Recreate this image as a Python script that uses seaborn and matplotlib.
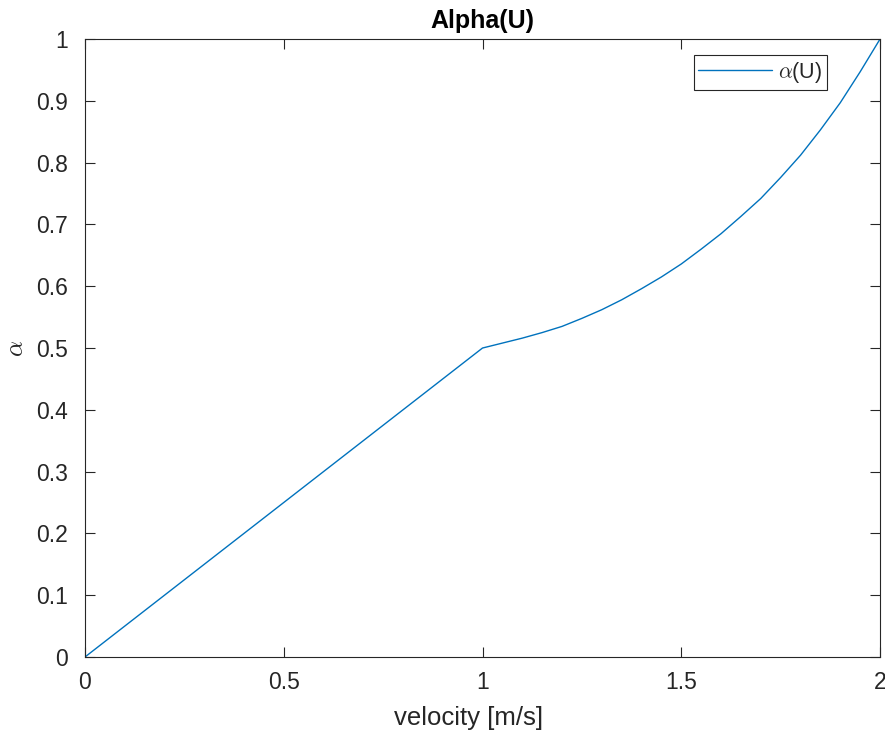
import matplotlib
matplotlib.use("Agg")
import matplotlib.pyplot as plt
import seaborn as sns
import pandas as pd

# velocity samples [m/s] and alpha values
velocity = [0.0, 1.0, 1.05, 1.1, 1.15, 1.2, 1.25, 1.3, 1.35, 1.4, 1.45, 1.5,
            1.55, 1.6, 1.65, 1.7, 1.75, 1.8, 1.85, 1.9, 1.95, 2.0]
alpha = [0.0, 0.500, 0.508, 0.516, 0.525, 0.535, 0.548, 0.562, 0.578, 0.596,
         0.615, 0.636, 0.660, 0.685, 0.713, 0.742, 0.776, 0.812, 0.853, 0.897,
         0.947, 1.000]

x_ticks = [0, 0.5, 1, 1.5, 2]
x_tick_labels = ["0", "0.5", "1", "1.5", "2"]
y_ticks = [0, 0.1, 0.2, 0.3, 0.4, 0.5, 0.6, 0.7, 0.8, 0.9, 1]
y_tick_labels = ["0", "0.1", "0.2", "0.3", "0.4", "0.5", "0.6", "0.7", "0.8", "0.9", "1"]

df = pd.DataFrame({"velocity": velocity, "alpha": alpha})

sns.set_theme(style="white")
plt.rcParams["font.family"] = ["Liberation Sans", "DejaVu Sans"]
plt.rcParams["mathtext.fontset"] = "cm"

edge = "#262626"
fig = plt.figure(figsize=(8.85, 7.31), dpi=100)
ax = fig.add_axes([0.096, 0.1012, 0.8984, 0.8454])

sns.lineplot(data=df, x="velocity", y="alpha", ax=ax, color="#0072BD",
             linewidth=1.0, label=r"$\alpha$(U)", sort=False)

ax.set_xlim(0, 2)
ax.set_ylim(0, 1)
ax.set_xticks(x_ticks)
ax.set_xticklabels(x_tick_labels)
ax.set_yticks(y_ticks)
ax.set_yticklabels(y_tick_labels)

for s in ax.spines.values():
    s.set_color(edge)
    s.set_linewidth(0.8)
ax.tick_params(direction="in", length=7, width=0.8, color=edge,
               labelcolor=edge, labelsize=16.5, top=True, right=True,
               bottom=True, left=True)
ax.tick_params(axis="x", pad=10)
ax.tick_params(axis="y", pad=12)

ax.set_xlabel("velocity [m/s]", fontsize=18.5, color=edge)
ax.xaxis.set_label_coords(0.482, -0.079)
ax.set_ylabel(r"$\alpha$", fontsize=18, color=edge)
ax.yaxis.set_label_coords(-0.072, 0.5)
ax.set_title("Alpha(U)", fontsize=18, fontweight="bold", color="black", pad=8)

leg = ax.legend(loc="upper right", bbox_to_anchor=(0.9333, 0.974),
                fontsize=15.5, frameon=True, fancybox=False, handlelength=3.4,
                handletextpad=0.3, borderpad=0.22, borderaxespad=0.0)
leg.get_frame().set_edgecolor(edge)
leg.get_frame().set_linewidth(0.8)
leg.get_frame().set_alpha(1.0)

fig.savefig("out.png", dpi=100)
